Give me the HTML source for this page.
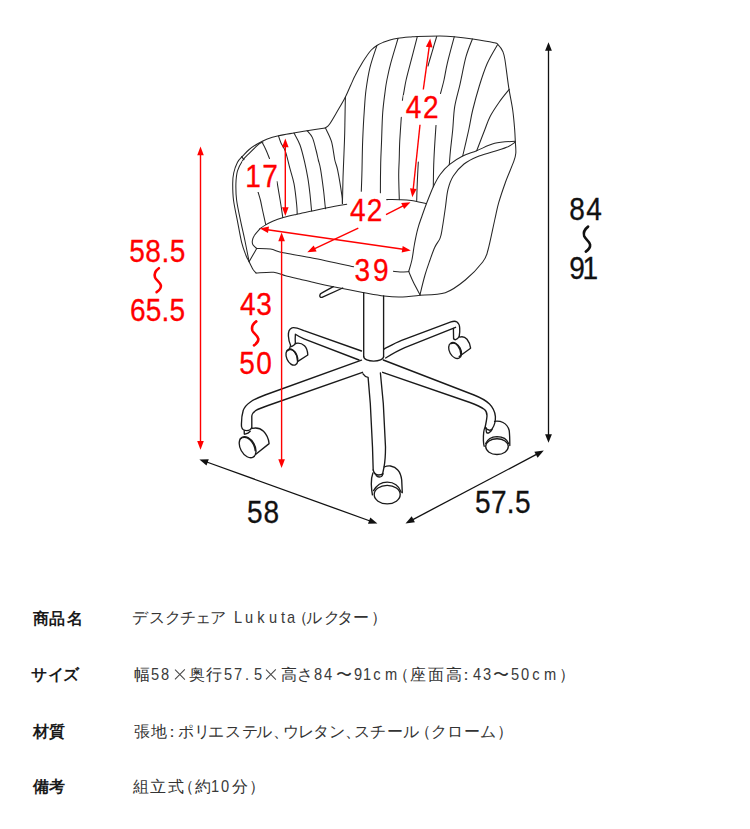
<!DOCTYPE html><html><head><meta charset="utf-8"><title>Lukuta</title><style>
*{margin:0;padding:0;box-sizing:border-box}
html,body{width:750px;height:829px;background:#fff;overflow:hidden}
body{position:relative;font-family:"Liberation Sans",sans-serif;color:#333}
.dg{position:absolute;left:0;top:0;display:block}
.row{position:absolute;left:0;width:750px;height:20px}
.row span{position:absolute;top:0;width:30px;margin-left:-15px;text-align:center;font-size:15.5px;line-height:20px;white-space:nowrap}
.lb span{font-weight:bold;color:#1a1a1a}
.vl span{color:#333}
.vl span.n{transform:scaleX(0.86);color:#3a3a3a}
.x{position:absolute;top:4.5px;width:10.4px;height:10.4px;margin-left:-5.2px}
.x:before,.x:after{content:"";position:absolute;left:-1.6px;top:4.7px;width:13.6px;height:1.1px;background:#444;transform:rotate(45deg)}
.x:after{transform:rotate(-45deg)}

</style></head><body>
<svg width="750" height="560" viewBox="0 0 750 560" class="dg">
<g fill="none" stroke="#262626" stroke-width="1.05" stroke-linecap="round" stroke-linejoin="round">
<path d="M325.2,128.0C325.9,127.4 327.6,127.0 329.5,124.3C331.4,121.6 334.3,116.5 336.9,112.0C339.5,107.5 343.0,101.7 345.3,97.2C347.6,92.7 349.1,88.7 350.7,85.2C352.3,81.7 353.3,79.2 354.9,76.1C356.4,73.0 358.3,69.7 360.0,66.7C361.7,63.7 363.4,60.8 365.3,58.0C367.2,55.2 369.3,52.1 371.3,50.0C373.3,47.9 375.3,46.6 377.3,45.3C379.3,44.0 381.2,43.2 383.3,42.3C385.4,41.4 387.6,40.7 390.0,40.0C392.4,39.3 394.7,38.8 398.0,38.3C401.3,37.8 406.8,37.3 410.0,37.0C413.2,36.7 412.3,36.6 417.3,36.4C422.3,36.2 433.9,36.0 440.0,36.0C446.1,36.0 448.6,36.2 454.0,36.7C459.4,37.2 466.0,38.0 472.7,39.0C479.4,40.0 489.8,41.8 494.0,42.7C498.2,43.6 496.6,43.2 498.0,44.6C499.4,46.0 501.6,48.8 502.7,51.3C503.8,53.8 503.9,53.5 504.9,59.5C505.9,65.5 507.4,78.9 508.7,87.3C510.0,95.7 511.7,102.9 512.7,110.0C513.7,117.1 514.3,124.8 514.7,130.0C515.1,135.2 515.1,137.4 515.3,141.3C515.5,145.2 516.1,149.7 515.8,153.3C515.5,156.9 515.0,157.8 513.3,162.7C511.5,167.6 507.7,176.0 505.3,182.7C502.9,189.4 500.5,196.5 498.7,202.7C496.9,208.9 496.5,212.1 494.7,220.0C492.9,227.9 490.0,243.0 488.0,250.0C486.0,257.0 486.5,257.0 482.7,262.0C478.9,267.0 471.5,274.9 465.3,280.0C459.1,285.1 452.9,290.1 445.3,292.7C437.8,295.2 424.2,294.9 420.0,295.3"/>
<path d="M325.2,128.0C322.2,128.4 312.3,129.9 307.1,130.7C301.9,131.5 298.8,132.2 294.0,133.0C289.2,133.8 282.9,134.7 278.5,135.7C274.1,136.7 270.8,137.6 267.3,138.9C263.8,140.2 260.7,141.9 257.7,143.7C254.7,145.5 251.7,147.5 249.2,149.5C246.7,151.5 244.8,153.8 242.8,155.9C240.9,158.0 239.0,159.5 237.5,162.3C236.0,165.2 234.5,169.4 233.7,173.0C232.9,176.6 232.7,179.2 232.7,183.7C232.7,188.2 232.7,193.7 233.5,200.0C234.3,206.3 236.1,214.2 237.5,221.3C238.9,228.4 240.3,237.0 241.7,242.7C243.1,248.4 244.8,252.3 246.0,255.5C247.2,258.7 248.0,259.6 249.2,261.9C250.3,264.2 251.8,267.4 252.9,269.3C254.1,271.2 255.6,272.4 256.1,273.0"/>
<path d="M256.1,273.0C259.0,272.9 268.8,271.9 273.7,272.3C278.6,272.8 281.2,274.6 285.5,275.7C289.8,276.8 294.2,277.8 299.3,279.0C304.4,280.2 310.3,281.7 316.0,283.0C321.7,284.3 325.3,285.1 333.3,286.7C341.3,288.3 355.6,291.1 364.0,292.7C372.4,294.2 378.0,295.3 384.0,296.0C390.0,296.7 394.0,297.1 400.0,297.0C406.0,296.9 416.7,295.6 420.0,295.3"/>
<path d="M263.0,142.0C262.3,142.4 261.1,142.3 258.8,144.2C256.5,146.1 251.9,150.6 249.2,153.3C246.5,156.0 244.8,157.3 242.8,160.2C240.9,163.1 238.7,167.0 237.5,170.9C236.3,174.8 236.1,178.8 235.9,183.7C235.8,188.5 235.8,193.7 236.6,200.0C237.4,206.3 239.3,214.6 240.7,221.3C242.1,228.1 243.6,234.1 244.9,240.5C246.2,246.9 248.0,256.1 248.7,259.7C249.4,263.3 249.1,261.5 249.2,261.9"/>
<path d="M241.6,156.6L244.0,159.6"/>
<path d="M259.9,228.8C260.8,228.2 263.1,226.3 265.2,225.1C267.3,223.8 269.7,222.6 272.7,221.3C275.7,220.1 279.4,218.8 283.3,217.6C287.2,216.4 291.3,215.5 296.1,214.4C300.9,213.3 307.0,212.1 312.0,211.0C317.0,209.9 320.2,209.1 326.0,208.0C331.8,206.9 343.3,204.9 346.8,204.3"/>
<path d="M386.7,199.6C388.9,199.6 395.5,199.5 399.6,199.7C403.7,199.8 406.9,199.8 411.3,200.5C415.8,201.2 423.8,203.2 426.3,203.7"/>
<path d="M259.9,228.8C259.0,229.9 255.8,233.2 254.5,235.2C253.2,237.1 252.7,238.9 252.4,240.5C252.1,242.1 252.2,243.5 252.9,244.8C253.6,246.1 256.1,247.9 256.7,248.5"/>
<path d="M256.7,248.5C259.0,248.6 266.1,248.4 270.5,249.1C274.9,249.8 276.7,251.4 283.3,252.8C289.9,254.2 298.3,255.2 310.0,257.5C321.7,259.8 346.4,265.2 353.7,266.7"/>
<path d="M393.3,271.3C394.4,271.4 397.4,271.9 400.0,272.0C402.6,272.1 407.2,271.7 408.7,271.6"/>
<path d="M249.2,261.5L256.7,248.5"/>
<path d="M515.3,141.3C511.9,141.6 501.1,141.7 494.7,143.3C488.3,144.9 482.0,148.6 476.7,150.7C471.4,152.8 467.3,153.7 462.7,156.0C458.1,158.3 453.1,161.6 449.3,164.7C445.5,167.8 442.7,171.0 440.0,174.7C437.3,178.4 435.6,181.9 433.3,186.7C431.1,191.5 428.4,198.6 426.5,203.5C424.6,208.4 423.5,211.7 422.0,216.0C420.5,220.3 418.9,224.4 417.7,229.1C416.4,233.8 415.5,238.8 414.5,244.0C413.5,249.2 412.9,255.4 411.9,260.0C410.9,264.6 409.2,269.6 408.7,271.5"/>
<path d="M408.7,271.5C409.5,273.2 411.4,278.1 413.3,282.0C415.2,285.9 418.9,292.6 420.0,294.7"/>
<path d="M515.3,142.0C514.1,142.8 511.4,145.1 508.0,146.7C504.6,148.2 499.8,149.6 494.7,151.3C489.6,153.0 482.4,154.6 477.3,156.7C472.2,158.8 468.0,160.8 464.0,164.0C460.0,167.2 456.0,171.8 453.3,176.0C450.6,180.2 449.3,184.2 448.0,189.3C446.7,194.4 446.4,200.2 445.5,206.7C444.6,213.1 443.2,222.8 442.3,228.0C441.4,233.2 441.4,234.9 440.1,238.1C438.9,241.3 436.5,243.5 434.8,247.2C433.1,250.8 431.6,255.4 430.0,260.0C428.4,264.6 426.7,269.2 425.0,275.0C423.3,280.8 420.8,291.4 420.0,294.7"/>
<path d="M345.4,97.0C345.3,101.3 345.0,115.5 344.9,122.7C344.8,129.9 344.8,132.1 344.5,140.0C344.2,147.9 343.6,162.9 343.3,170.0C343.0,177.1 343.0,177.1 342.9,182.7C342.8,188.3 342.5,200.0 342.4,203.5"/>
<path d="M325.7,128.5C326.7,130.7 330.1,136.7 331.6,141.9C333.1,147.2 333.8,155.3 334.8,160.0C335.8,164.7 336.4,164.0 337.6,169.9C338.8,175.8 341.1,189.9 341.9,195.5C342.7,201.1 342.3,202.2 342.4,203.5"/>
<path d="M376.8,45.8C375.7,49.4 371.8,59.9 370.0,67.3C368.2,74.7 367.0,82.5 366.0,90.0C365.0,97.5 364.8,103.7 364.2,112.0C363.6,120.3 363.1,130.3 362.7,140.0C362.3,149.7 362.2,161.4 362.0,170.0C361.8,178.6 361.4,187.8 361.3,191.3"/>
<path d="M398.0,38.5C396.8,42.6 392.6,56.4 390.7,63.3C388.8,70.2 387.8,75.5 386.9,80.0C386.0,84.5 386.0,84.5 385.3,90.0C384.6,95.5 383.3,104.4 382.7,112.7C382.1,121.0 381.9,131.6 381.6,140.0C381.3,148.4 380.9,154.5 380.7,163.3C380.5,172.1 380.4,187.8 380.4,192.7"/>
<path d="M417.3,36.7C416.0,41.8 411.2,60.1 409.3,67.3C407.4,74.5 407.0,76.0 406.1,80.0C405.2,84.0 404.6,87.9 404.0,91.3C403.4,94.7 402.7,98.8 402.4,100.3"/>
<path d="M401.3,117.3C401.1,121.1 400.2,132.9 399.8,140.0C399.4,147.1 399.4,154.2 399.2,160.0C399.0,165.8 398.7,168.4 398.7,175.0C398.7,181.6 399.2,195.5 399.3,199.6"/>
<path d="M436.7,36.5C436.1,38.3 434.5,43.8 433.4,47.5C432.3,51.2 430.9,55.9 430.0,59.0C429.1,62.1 428.3,64.8 428.0,66.0"/>
<path d="M418.3,162.0C418.1,165.0 417.7,173.6 417.4,180.0C417.1,186.4 416.8,197.1 416.7,200.5"/>
<path d="M454.3,36.7C453.1,41.1 449.0,56.1 447.3,63.3C445.6,70.5 445.1,75.0 444.0,80.0C442.9,85.0 441.1,91.2 440.5,93.5"/>
<path d="M436.0,125.3C435.6,131.1 434.3,149.8 433.9,160.0C433.4,170.2 433.4,182.2 433.3,186.7"/>
<path d="M472.4,39.0C471.3,42.0 468.1,49.2 466.0,56.7C463.9,64.2 461.9,76.0 460.0,84.3C458.1,92.6 455.9,99.1 454.7,106.7C453.5,114.3 453.4,122.8 452.7,130.0C452.0,137.2 451.1,144.2 450.5,150.0C449.9,155.8 449.5,162.2 449.3,164.7"/>
<path d="M497.5,44.7C495.8,47.8 490.3,56.4 487.3,63.3C484.3,70.2 481.7,78.2 479.3,86.0C476.9,93.8 474.5,102.7 472.7,110.0C470.9,117.3 470.4,122.3 468.7,130.0C467.0,137.7 463.7,151.7 462.7,156.0"/>
<path d="M509.3,89.3C507.6,91.4 502.5,97.4 499.3,102.0C496.1,106.6 492.4,112.0 490.0,116.7C487.6,121.4 486.9,124.3 484.7,130.0C482.5,135.7 478.0,147.2 476.7,150.7"/>
<path d="M262.5,143.1C263.1,144.2 264.8,147.4 266.0,150.0C267.2,152.6 268.9,157.1 269.5,158.5"/>
<path d="M277.0,181.5C277.5,184.6 279.1,194.0 280.1,200.0C281.1,206.0 282.4,214.7 282.8,217.6"/>
<path d="M257.8,191.0C258.2,192.5 259.6,196.8 260.4,200.0C261.2,203.2 261.6,205.9 262.5,210.0C263.4,214.1 265.2,222.1 265.7,224.5"/>
<path d="M278.5,136.0C278.9,137.2 279.8,140.4 281.0,143.0C282.2,145.6 284.1,147.6 285.5,151.7C286.9,155.8 288.3,162.4 289.7,167.7C291.1,173.0 292.8,177.5 294.0,183.7C295.2,189.9 296.2,199.9 296.7,205.0C297.2,210.1 297.1,212.5 297.2,214.0"/>
<path d="M294.0,133.0C295.0,135.0 298.2,140.1 300.0,145.0C301.8,149.9 303.4,156.8 304.7,162.3C306.0,167.9 307.0,173.0 307.9,178.3C308.8,183.6 309.4,188.9 310.0,194.3C310.6,199.8 311.3,208.2 311.6,211.0"/>
<path d="M307.1,130.7C308.0,131.8 310.9,134.4 312.4,137.6C313.9,140.8 315.0,146.3 316.0,150.0C317.0,153.7 317.6,156.9 318.3,160.0C319.1,163.1 319.6,163.8 320.5,168.8C321.4,173.8 322.7,183.6 323.5,190.0C324.3,196.4 324.9,204.2 325.3,207.2C325.7,210.2 325.6,207.9 325.6,208.0"/>
</g>
<g fill="none" stroke="#1a1a1a" stroke-width="1.35" stroke-linecap="round" stroke-linejoin="round">
<path d="M363.7,292.7 L363.7,356.4"/>
<path d="M383.6,296 L383.6,356.4"/>
<path d="M363.7,356.4 C363.7,362.6 383.6,362.6 383.6,356.4"/>
<path d="M361.5,351 L304,330.6 C298.5,328.5 295,326.8 292,327.9 C289,329 288.2,332.5 288.4,336 C288.6,340 289.6,343 290.6,345.3"/>
<path d="M359,360 L304,338.8 C300,337.2 297.5,335.6 295.4,334.2 C295.1,337.5 295.2,341 295.4,343.5"/>
<path d="M383.7,349.3 C390,346 395,343 401.6,340.4 L451,321.9 C453.5,321 455.5,321 457,322 C458.8,323.3 459.6,325.5 459.7,328 C459.9,331 459.7,334 459.2,336.5"/>
<path d="M385.6,358 C392,354 398,350.5 404.8,347.6 L455.6,327.3"/>
<path d="M453.4,328.4 L453.6,338.7"/>
<path d="M361.5,360.2 L265,395 C252,400 245.5,404 243.2,410.5 C241.8,415 241.3,421.5 241.5,426.5 C242,429.2 244,430.6 246.7,430.6 C249,430.6 251,429.8 251.8,427.6"/>
<path d="M362.5,372.3 L268,405.5 C258,409 252.5,411 251.8,416 L251.8,427.6"/>
<path d="M383.3,360 L474,395 C481,397.8 486,400.5 489.5,404 C493,407.5 495,412 495.4,416.6 C495.6,421 494.5,425.5 492.1,428.9 C490.8,430.3 489.6,430.4 488.9,430 C487.6,429.8 486.6,429.2 486,428.2"/>
<path d="M382.6,372.3 L470,402.5 C477,405 481.5,407.3 484.5,409.5 C486.5,411.2 487.1,413.5 487,415.9 C486.8,419.5 486,423 485.2,426.8 L486,428.2"/>
<path d="M363,373.8 C364.5,376 366,377 368.1,377.4 L370.3,403.5 L372.5,447 L373.2,470"/>
<path d="M380.4,373 L383.3,403.5 L385.5,447 C385.5,456 385,462 384,467.2 L382.6,474"/>
<path d="M373.2,470 C374,473.5 376,475 378.5,475 C380.5,475 382,474.6 382.8,473.8"/>
<path d="M342.7,288 L322,297.3 C320.5,297.8 319.6,296.6 319.8,295.3 C320,294.2 320.5,293.6 321.5,293.1 L333.3,286.7"/>
<path d="M290.6,345.3 C290.2,346.8 289.8,348 289.3,349.2"/>
<path d="M295.4,343.5 C294.5,345 293,346 291.5,346.6"/>
<path d="M295.4,343.5 C298.5,342.8 302,343.5 304.5,345.8 C306.5,347.8 307.6,351 307.8,355 L297.5,361.6"/>
<ellipse cx="291.9" cy="357.1" rx="5.3" ry="8.5" transform="rotate(-24 291.9 357.1)"/>
<path d="M287.6,350.8 C289.5,349 292.3,349.2 294.5,351.8 C296.3,354 297.4,357 297.4,360.5"/>
<path d="M453.6,338.7 C454.2,339.6 454.8,339.9 455.6,339.7 C456.8,339.3 458.2,338.3 459.2,336.5"/>
<path d="M459.7,337.1 C462.5,336.2 465,337 467,339.3 C468.8,341.5 470.2,345 470.6,348.2 L459.2,356.5"/>
<ellipse cx="455.1" cy="350.5" rx="5.6" ry="8.6" transform="rotate(-29 455.1 350.5)"/>
<path d="M450.9,343.7 C453,342.6 455.8,343.2 457.8,345.8 C459.8,348.3 460.9,351.5 460.9,354.8"/>
<path d="M486,428.2 C486.1,430 486.3,431.5 486.6,432.6 C487.5,433.2 488.3,433.1 489,432.8 C490.3,431.8 491.4,430.6 492.1,429.4"/>
<path d="M484.9,427.5 C483.6,430 483.3,435 483.4,440.5 C483.5,443 483.8,445 484.2,446.3"/>
<path d="M494.6,421.3 C497,421 500,421 503,422.5 C506,424 508.2,426.5 509.2,430.5 C509.8,435 509.8,441 509.8,445.6"/>
<ellipse cx="497" cy="446.6" rx="11.3" ry="7.9"/>
<path d="M485.7,443.6 C487.5,439.2 492,436.8 497,436.6 C502.2,436.6 507,439.2 508.6,443.6"/>
<path d="M384.1,467 C386.5,466 388.5,465.8 390.5,466 C393.5,466.5 396,467.8 397.8,470 C400,472.5 401.2,476 401.7,480 L402.3,492.7"/>
<path d="M372.9,473 C371.6,476.5 371.2,480 371.3,484 C371.4,488 371.8,491.5 372.4,494.8"/>
<path d="M376.2,475.5 C377.5,477 379.5,477.3 381.3,476.5 C382.2,475.9 382.6,475 382.8,473.8"/>
<ellipse cx="387.2" cy="494.6" rx="13" ry="9.3"/>
<path d="M373.6,490.6 C376.5,485.3 381.5,482.2 387.3,482.1 C393.5,482.1 398.8,485.5 401.2,492.2"/>
<path d="M244.2,430.4 L244.3,434"/>
<path d="M250.2,431.2 C248.8,432.8 246.8,433.7 245,434.2"/>
<path d="M252.6,428.4 C256.5,427.5 260.5,428.5 263.5,431.3 C266.5,434.3 268.6,438.5 269.1,443.6 L255.8,454.3"/>
<ellipse cx="247.6" cy="447.2" rx="7.2" ry="11.4" transform="rotate(-29.3 247.6 447.2)"/>
<path d="M240.2,439 C242.5,436.8 246.5,436.8 249.6,439.4 C252.6,442 254.7,446 255.2,450.8"/>
</g>
<g fill="#fff" stroke="none">
<rect x="403.5" y="95.0" width="37.5" height="30.0"/>
<rect x="347.5" y="196.5" width="38.0" height="27.0"/>
<rect x="354.5" y="255.0" width="38.5" height="30.0"/>
<rect x="242.5" y="161.0" width="34.0" height="31.0"/>
</g>
<g fill="none" stroke="#ff0000" stroke-width="1.4">
<path d="M200.5,154.3L200.5,442.1"/>
<path d="M281.6,240.3L281.6,460.3"/>
<path d="M285.3,146.2L285.3,208.3"/>
<path d="M429.3,46.2L423.3,89.5"/>
<path d="M420.0,124.8L413.2,189.5"/>
<path d="M314.2,248.9L358.3,228.2"/>
<path d="M386.0,214.7L403.6,205.7"/>
<path d="M267.5,229.7L403.2,249.3"/>
</g>
<g fill="#ff0000" stroke="none">
<path d="M200.5,146.6L203.8,155.3L197.2,155.3Z"/>
<path d="M200.5,449.8L197.2,441.1L203.8,441.1Z"/>
<path d="M281.6,232.6L284.9,241.3L278.3,241.3Z"/>
<path d="M281.6,468.0L278.3,459.3L284.9,459.3Z"/>
<path d="M285.3,138.5L288.6,147.2L282.0,147.2Z"/>
<path d="M285.3,216.0L282.0,207.3L288.6,207.3Z"/>
<path d="M430.2,38.5L432.5,47.5L425.9,46.8Z"/>
<path d="M412.3,197.2L410.0,188.2L416.6,188.9Z"/>
<path d="M307.3,252.3L313.7,245.5L316.6,251.5Z"/>
<path d="M410.5,202.3L404.1,209.1L401.2,203.1Z"/>
<path d="M259.9,228.6L269.0,226.6L268.0,233.1Z"/>
<path d="M410.8,250.4L401.7,252.4L402.7,245.9Z"/>
</g>
<g fill="none" stroke="#111" stroke-width="1.3">
<path d="M548.5,49.8L548.5,435.3"/>
<path d="M206.7,462.0L370.1,521.0"/>
<path d="M412.4,519.8L536.9,454.2"/>
</g>
<g fill="#111" stroke="none">
<path d="M548.5,42.3L551.9,50.8L545.1,50.8Z"/>
<path d="M548.5,442.8L545.1,434.3L551.9,434.3Z"/>
<path d="M199.4,459.4L208.8,459.2L206.5,465.6Z"/>
<path d="M377.4,523.6L368.0,523.8L370.3,517.4Z"/>
<path d="M405.5,523.4L411.7,516.3L414.9,522.3Z"/>
<path d="M543.8,450.6L537.6,457.7L534.4,451.7Z"/>
</g>
<g fill="none" stroke-linecap="round" stroke-width="2.6">
<path stroke="#ff0000" d="M158.9,268.2 C155.6,270.6 153.9,274.0 155.0,277.4 C156.0,280.2 160.4,282.2 160.9,285.5 C161.3,288.5 159.0,290.6 156.6,292.2"/>
<path stroke="#ff0000" d="M256.3,321.4 C253.0,323.8 251.3,327.2 252.4,330.6 C253.4,333.4 257.8,335.4 258.3,338.7 C258.7,341.7 256.4,343.8 254.0,345.4"/>
<path stroke="#111" d="M588.1,226.6 C584.8,229.1 583.1,232.7 584.2,236.2 C585.2,239.1 589.6,241.2 590.1,244.6 C590.5,247.7 588.2,249.9 585.8,251.6"/>
</g>
<g font-family="Liberation Sans, sans-serif" font-size="30.5">
<text transform="translate(129.3,262.0) scale(0.92,1)" x="0" y="0" textLength="60.9" lengthAdjust="spacing" fill="#ff0000" stroke="#ff0000" stroke-width="0.3">58.5</text>
<text transform="translate(130.0,321.0) scale(0.92,1)" x="0" y="0" textLength="59.8" lengthAdjust="spacing" fill="#ff0000" stroke="#ff0000" stroke-width="0.3">65.5</text>
<text transform="translate(240.1,315.0) scale(0.92,1)" x="0" y="0" textLength="34.5" lengthAdjust="spacing" fill="#ff0000" stroke="#ff0000" stroke-width="0.3">43</text>
<text transform="translate(239.3,373.7) scale(0.92,1)" x="0" y="0" textLength="35.5" lengthAdjust="spacing" fill="#ff0000" stroke="#ff0000" stroke-width="0.3">50</text>
<text transform="translate(245.2,187.4) scale(0.92,1)" x="0" y="0" textLength="35.5" lengthAdjust="spacing" fill="#ff0000" stroke="#ff0000" stroke-width="0.3">17</text>
<text transform="translate(405.7,118.3) scale(0.92,1)" x="0" y="0" textLength="35.7" lengthAdjust="spacing" fill="#ff0000" stroke="#ff0000" stroke-width="0.3">42</text>
<text transform="translate(350.0,220.6) scale(0.92,1)" x="0" y="0" textLength="35.1" lengthAdjust="spacing" fill="#ff0000" stroke="#ff0000" stroke-width="0.3">42</text>
<text transform="translate(354.6,280.6) scale(0.92,1)" x="0" y="0" textLength="37.0" lengthAdjust="spacing" fill="#ff0000" stroke="#ff0000" stroke-width="0.3">39</text>
<text transform="translate(569.2,219.8) scale(0.92,1)" x="0" y="0" textLength="35.4" lengthAdjust="spacing" fill="#111" stroke="#111" stroke-width="0.3">84</text>
<text transform="translate(569.2,279.4) scale(0.92,1)" x="0" y="0" textLength="31.5" lengthAdjust="spacing" fill="#111" stroke="#111" stroke-width="0.3">91</text>
<text transform="translate(247.0,523.4) scale(0.92,1)" x="0" y="0" textLength="35.0" lengthAdjust="spacing" fill="#111" stroke="#111" stroke-width="0.3">58</text>
<text transform="translate(475.0,513.1) scale(0.92,1)" x="0" y="0" textLength="60.4" lengthAdjust="spacing" fill="#111" stroke="#111" stroke-width="0.3">57.5</text>
</g>
</svg>
<div class="row lb" style="top:608.9px"><span style="left:40.8px">商</span><span style="left:57.2px">品</span><span style="left:74.6px">名</span></div>
<div class="row lb" style="top:665.0px"><span style="left:38.9px">サ</span><span style="left:56.4px">イ</span><span style="left:70.7px">ズ</span></div>
<div class="row lb" style="top:722.0px"><span style="left:41.3px">材</span><span style="left:57.2px">質</span></div>
<div class="row lb" style="top:777.0px"><span style="left:41.3px">備</span><span style="left:57.2px">考</span></div>
<div class="row vl" style="top:607.6px"><span style="left:140.2px">デ</span><span style="left:157.3px">ス</span><span style="left:172.5px">ク</span><span style="left:188.0px">チ</span><span style="left:203.2px">ェ</span><span style="left:218.4px">ア</span><span class="n" style="left:238.3px;font-size:17px">L</span><span class="n" style="left:249.0px;font-size:17px">u</span><span class="n" style="left:260.5px;font-size:17px">k</span><span class="n" style="left:273.0px;font-size:17px">u</span><span class="n" style="left:282.5px;font-size:17px">t</span><span class="n" style="left:291.0px;font-size:17px">a</span><span style="left:299.5px">（</span><span style="left:314.4px">ル</span><span style="left:331.6px">ク</span><span style="left:344.9px">タ</span><span style="left:361.0px">ー</span><span style="left:378.6px">）</span></div>
<div class="row vl" style="top:664.8px"><span style="left:142.1px">幅</span><span class="n" style="left:155.2px;font-size:17px">5</span><span class="n" style="left:164.8px;font-size:17px">8</span><i class="x" style="left:179.6px"></i><span style="left:197.3px">奥</span><span style="left:213.6px">行</span><span class="n" style="left:228.0px;font-size:17px">5</span><span class="n" style="left:238.4px;font-size:17px">7</span><span class="n" style="left:247.2px;font-size:17px">.</span><span class="n" style="left:257.6px;font-size:17px">5</span><i class="x" style="left:271.2px"></i><span style="left:288.9px">高</span><span style="left:304.9px">さ</span><span class="n" style="left:318.4px;font-size:17px">8</span><span class="n" style="left:328.4px;font-size:17px">4</span><span style="left:344.0px">〜</span><span class="n" style="left:358.0px;font-size:17px">9</span><span class="n" style="left:367.2px;font-size:17px">1</span><span class="n" style="left:376.8px;font-size:17px">c</span><span class="n" style="left:390.8px;font-size:17px">m</span><span style="left:400.8px">（</span><span style="left:418.1px">座</span><span style="left:435.7px">面</span><span style="left:453.7px">高</span><span style="left:465.8px">：</span><span class="n" style="left:477.0px;font-size:17px">4</span><span class="n" style="left:487.0px;font-size:17px">3</span><span style="left:501.4px">〜</span><span class="n" style="left:515.4px;font-size:17px">5</span><span class="n" style="left:525.4px;font-size:17px">0</span><span class="n" style="left:535.8px;font-size:17px">c</span><span class="n" style="left:550.2px;font-size:17px">m</span><span style="left:567.4px">）</span></div>
<div class="row vl" style="top:721.8px"><span style="left:141.8px">張</span><span style="left:158.8px">地</span><span style="left:172.4px">：</span><span style="left:186.4px">ポ</span><span style="left:202.1px">リ</span><span style="left:216.4px">エ</span><span style="left:233.3px">ス</span><span style="left:250.0px">テ</span><span style="left:264.3px">ル</span><span style="left:281.3px">、</span><span style="left:290.8px">ウ</span><span style="left:305.6px">レ</span><span style="left:320.8px">タ</span><span style="left:336.7px">ン</span><span style="left:352.9px">、</span><span style="left:362.3px">ス</span><span style="left:377.8px">チ</span><span style="left:394.6px">ー</span><span style="left:411.3px">ル</span><span style="left:422.9px">（</span><span style="left:439.4px">ク</span><span style="left:455.0px">ロ</span><span style="left:471.6px">ー</span><span style="left:488.4px">ム</span><span style="left:504.8px">）</span></div>
<div class="row vl" style="top:776.8px"><span style="left:140.6px">組</span><span style="left:158.3px">立</span><span style="left:175.6px">式</span><span style="left:186.0px">（</span><span style="left:202.7px">約</span><span class="n" style="left:215.2px;font-size:17px">1</span><span class="n" style="left:224.6px;font-size:17px">0</span><span style="left:239.5px">分</span><span style="left:256.6px">）</span></div>
</body></html>
